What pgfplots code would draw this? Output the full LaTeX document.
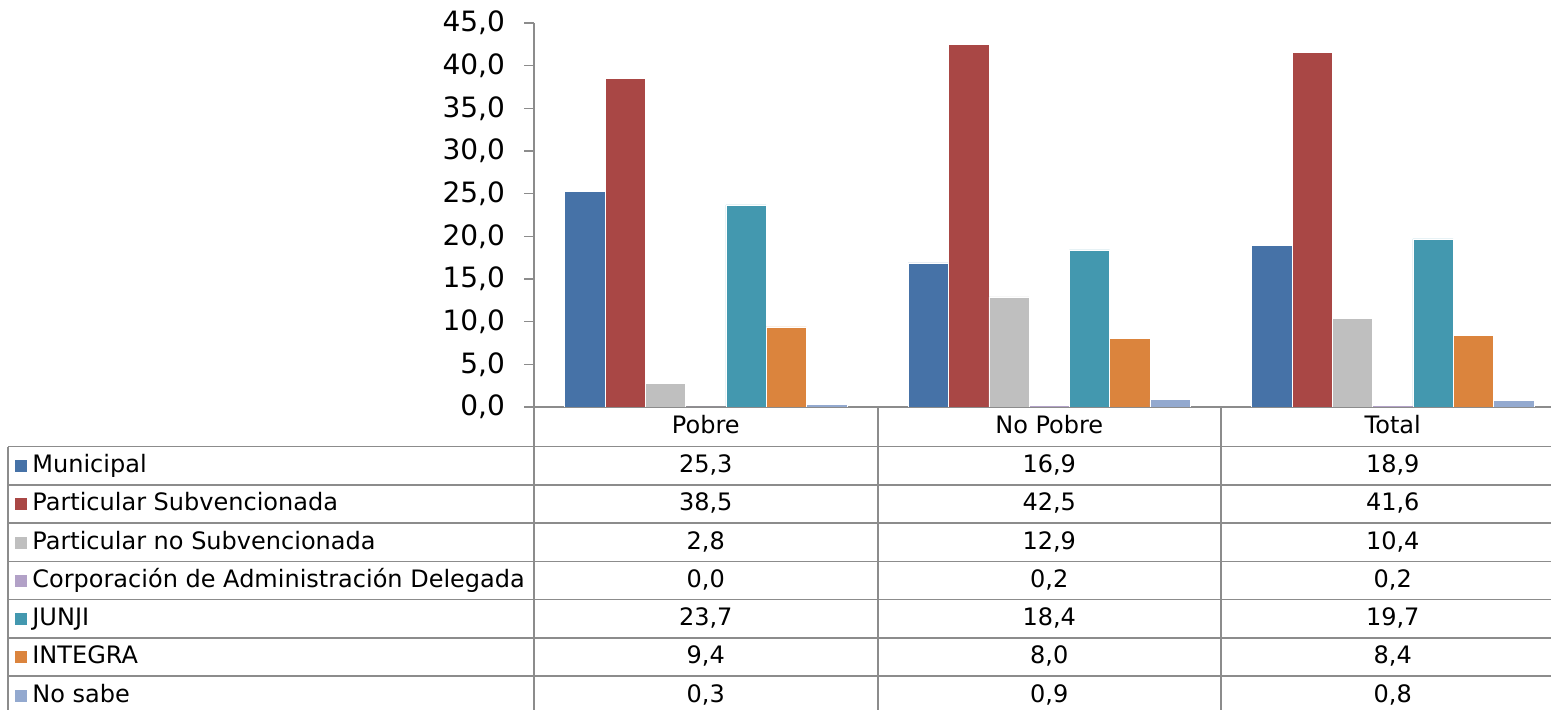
\documentclass[border=0pt]{standalone}
\usepackage{fontspec}
\setmainfont{DejaVu Sans}
\usepackage{pgfplots}
\pgfplotsset{compat=1.18}

\definecolor{cMun}{HTML}{4672A7}
\definecolor{cPS}{HTML}{A94745}
\definecolor{cPNS}{HTML}{BFBFBF}
\definecolor{cCorp}{HTML}{B2A1C7}
\definecolor{cJunji}{HTML}{4398AF}
\definecolor{cInt}{HTML}{DB843D}
\definecolor{cNS}{HTML}{93A9CF}
\definecolor{gridgray}{HTML}{8C8C8C}

\begin{document}
\begin{tikzpicture}
\clip (0,0) rectangle (775.5pt,-355pt);

\begin{axis}[
    at={(267pt,-203.5pt)}, anchor=south west,
    scale only axis,
    width=515.25pt, height=192pt,
    xmin=-0.5, xmax=2.5,
    ymin=0, ymax=45,
    ytick={0,5,...,45},
    xtick=\empty,
    axis lines=left,
    axis line style={-, draw=gridgray, line width=0.75pt},
    tick align=outside,
    major tick length=5pt,
    ytick style={draw=gridgray, line width=0.75pt},
    yticklabel style={font=\fontsize{14}{16}\selectfont, xshift=-6pt,
        /pgf/number format/fixed,
        /pgf/number format/fixed zerofill,
        /pgf/number format/precision=1,
        /pgf/number format/use comma,
        /pgf/number format/assume math mode=true},
    ybar=0pt,
    bar width=0.1173,
    every axis plot/.append style={draw=white, line width=0.25pt},
]
% Pobre, No Pobre, Total
\addplot[fill=cMun]   coordinates {(0,25.3) (1,16.9) (2,18.9)};
\addplot[fill=cPS]    coordinates {(0,38.5) (1,42.5) (2,41.6)};
\addplot[fill=cPNS]   coordinates {(0,2.8)  (1,12.9) (2,10.4)};
\addplot[fill=cCorp]  coordinates {(0,0.0)  (1,0.2)  (2,0.2)};
\addplot[fill=cJunji] coordinates {(0,23.7) (1,18.4) (2,19.7)};
\addplot[fill=cInt]   coordinates {(0,9.4)  (1,8.0)  (2,8.4)};
\addplot[fill=cNS]    coordinates {(0,0.3)  (1,0.9)  (2,0.8)};
\end{axis}

% data table under the chart, in pixel units of the reference
\begin{scope}[x=0.5pt, y=-0.5pt, font=\fontsize{12}{14}\selectfont]
  \draw[gridgray, line width=0.75pt]
    (534,407) -- (534,712)
    (878,407) -- (878,712)
    (1221,407) -- (1221,712)
    (8,446.7) -- (8,712);
  \foreach \i in {0,...,6}
    \draw[gridgray, line width=0.75pt] (8,{446.7+\i*38.22}) -- (1551,{446.7+\i*38.22});

  \node[anchor=base, inner sep=0] at (705.75,434) {Pobre};
  \node[anchor=base, inner sep=0] at (1049.25,434) {No Pobre};
  \node[anchor=base, inner sep=0] at (1392.75,434) {Total};

  \foreach \lab/\col/\a/\b/\c [count=\i from 0] in {
      Municipal/cMun/{25,3}/{16,9}/{18,9},
      Particular Subvencionada/cPS/{38,5}/{42,5}/{41,6},
      Particular no Subvencionada/cPNS/{2,8}/{12,9}/{10,4},
      Corporación de Administración Delegada/cCorp/{0,0}/{0,2}/{0,2},
      JUNJI/cJunji/{23,7}/{18,4}/{19,7},
      INTEGRA/cInt/{9,4}/{8,0}/{8,4},
      No sabe/cNS/{0,3}/{0,9}/{0,8}} {
    \pgfmathsetmacro\yt{446.7+\i*38.22}
    \fill[\col] (15,{\yt+13.5}) rectangle (27,{\yt+25.5});
    \node[anchor=base west, inner sep=0] at (32,{\yt+26}) {\lab};
    \node[anchor=base, inner sep=0] at (705.75,{\yt+26}) {\a};
    \node[anchor=base, inner sep=0] at (1049.25,{\yt+26}) {\b};
    \node[anchor=base, inner sep=0] at (1392.75,{\yt+26}) {\c};
  }
\end{scope}
\end{tikzpicture}
\end{document}
